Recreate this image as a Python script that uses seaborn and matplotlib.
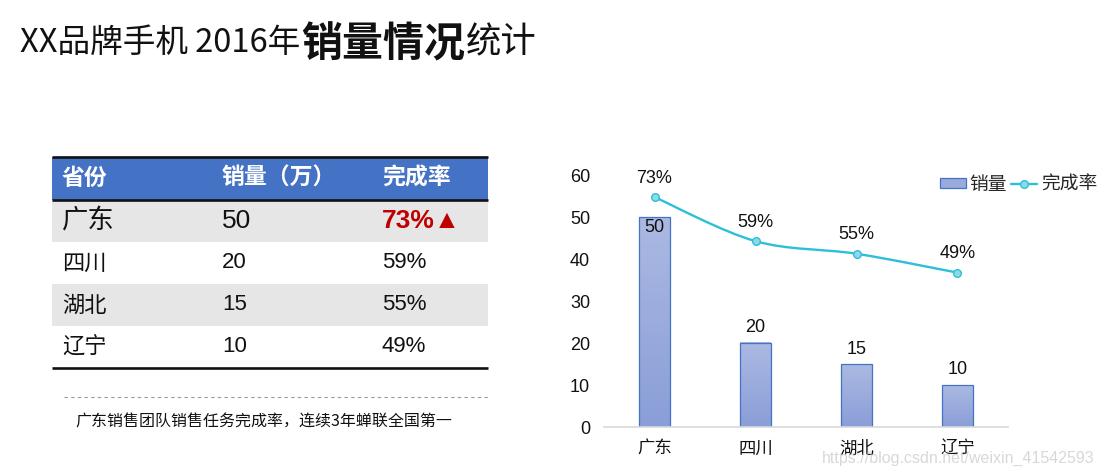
import numpy as np
import pandas as pd
import matplotlib
matplotlib.use('Agg')
import matplotlib.pyplot as plt
import seaborn as sns
from matplotlib.patches import Rectangle, PathPatch
from matplotlib.path import Path
from matplotlib.lines import Line2D
from matplotlib.colors import LinearSegmentedColormap

# ---------------- data ----------------
provinces = ['广东', '四川', '湖北', '辽宁']
sales = [50, 20, 15, 10]
rates = [0.73, 0.59, 0.55, 0.49]
table_headers = ['省份', '销量（万）', '完成率']
legend_labels = ['销量', '完成率']
yticks = [0, 10, 20, 30, 40, 50, 60]
title_parts = ['XX品牌手机 2016年', '销量情况', '统计']
note = '广东销售团队销售任务完成率，连续3年蝉联全国第一'
watermark = 'https://blog.csdn.net/weixin_41542593'

# ---------------- style ----------------
sns.set_theme(style='white')
plt.rcParams['font.family'] = ['Liberation Sans', 'Noto Sans CJK SC', 'DejaVu Sans']
CJK = ['Noto Sans CJK SC', 'DejaVu Sans']
LAT = ['Liberation Sans', 'Noto Sans CJK SC', 'DejaVu Sans']

W, H = 1114, 472
fig = plt.figure(figsize=(W / 100, H / 100), dpi=100)
fig.patch.set_facecolor('white')

bg = fig.add_axes([0, 0, 1, 1])
bg.set_xlim(0, W)
bg.set_ylim(H, 0)
bg.axis('off')

# ---------------- title ----------------
renderer = fig.canvas.get_renderer()
x = 20
specs = [(title_parts[0], 23.5, 'normal', 52),
         (title_parts[1], 29.5, 'bold', 56),
         (title_parts[2], 25.5, 'normal', 52)]
for txt, size, weight, base in specs:
    t = bg.text(x, base, txt, fontsize=size, fontweight=weight, family=CJK,
                va='baseline', ha='left', color='#111111')
    bb = t.get_window_extent(renderer)
    x += bb.width + 1

# ---------------- table ----------------
tx0, tx1 = 52, 488
col_x = [62, 222, 382]
head_top, head_bot = 157, 200
row_h = 42
bg.add_patch(Rectangle((tx0, head_top), tx1 - tx0, head_bot - head_top,
                       facecolor='#4472C4', edgecolor='none'))
for i in range(len(provinces)):
    y0 = head_bot + i * row_h
    if i % 2 == 0:
        bg.add_patch(Rectangle((tx0, y0), tx1 - tx0, row_h,
                               facecolor='#E7E6E6', edgecolor='none'))
bottom = head_bot + row_h * len(provinces)
for yy in (head_top, head_bot, bottom):
    bg.plot([tx0, tx1], [yy, yy], color='#111111', lw=1.9, solid_capstyle='butt')

for cx, h in zip(col_x, table_headers):
    bg.text(cx, (head_top + head_bot) / 2, h, fontsize=16.5, fontweight='bold',
            color='white', family=CJK, va='center', ha='left')

for i, (p, s, r) in enumerate(zip(provinces, sales, rates)):
    yc = head_bot + row_h * i + row_h / 2
    fs = 19 if i == 0 else 16
    bg.text(col_x[0], yc, p, fontsize=fs, family=CJK, va='center', ha='left',
            color='#111111')
    bg.text(col_x[1], yc, str(s), fontsize=fs, family=LAT, va='center', ha='left',
            color='#111111')
    if i == 0:
        bg.text(col_x[2], yc, f'{round(r * 100)}%▲', fontsize=fs, family=LAT,
                fontweight='bold', va='center', ha='left', color='#C00000')
    else:
        bg.text(col_x[2], yc, f'{round(r * 100)}%', fontsize=fs, family=LAT,
                va='center', ha='left', color='#111111')

bg.plot([64, 488], [397, 397], color='#9A9A9A', lw=0.8, dashes=(3, 3))
bg.text(75, 422, note, fontsize=11.5, family=CJK, va='center', ha='left',
        color='#111111')

# ---------------- chart ----------------
df = pd.DataFrame({'province': provinces, 'sales': sales, 'rate': rates})

ax = fig.add_axes([604 / W, 1 - 427 / H, 404 / W, 252 / H])
ax.patch.set_alpha(0)
sns.barplot(data=df, x='province', y='sales', ax=ax, width=0.3,
            color='#9AAADD', edgecolor='#4472C4', linewidth=0.9, saturation=1)
ax.set_xlim(-0.5, len(provinces) - 0.5)
ax.set_ylim(yticks[0], yticks[-1])
ax.set_yticks(yticks)
ax.set_xlabel('')
ax.set_ylabel('')
for sp in ('left', 'top', 'right'):
    ax.spines[sp].set_visible(False)
ax.spines['bottom'].set_color('#D9D9D9')
ax.spines['bottom'].set_linewidth(1.2)
ax.tick_params(axis='y', length=0, labelsize=13, pad=10, labelcolor='#111111')
ax.tick_params(axis='x', length=0, labelsize=12.5, pad=9, labelcolor='#111111')
for lab in ax.get_xticklabels():
    lab.set_family(CJK)

# gradient fill for bars
cmap = LinearSegmentedColormap.from_list('g', ['#8A9ED8', '#ABB9E2'])
grad = np.linspace(0, 1, 64).reshape(-1, 1)
for p in list(ax.patches):
    bb = p.get_bbox()
    ax.imshow(grad, extent=[bb.x0, bb.x1, bb.y0, bb.y1], origin='lower',
              aspect='auto', cmap=cmap, zorder=p.get_zorder() + 0.1)
    p.set_facecolor('none')
    p.set_zorder(p.get_zorder() + 0.2)
ax.set_xlim(-0.5, len(provinces) - 0.5)
ax.set_ylim(yticks[0], yticks[-1])

for i, s in enumerate(sales):
    off = -11 if i == 0 else 15
    ax.annotate(str(s), xy=(i, s), xytext=(0, off), textcoords='offset pixels',
                ha='center', va='center', fontsize=13, color='#111111', zorder=5)

ax2 = ax.twinx()
ax2.set_ylim(0, 0.8)
line_c = '#2DBFD8'
sns.lineplot(data=df, x='province', y='rate', ax=ax2, sort=False, color=line_c,
             lw=1.7, marker='o', markersize=5.5, markerfacecolor='#8FD8E8',
             markeredgecolor=line_c, markeredgewidth=1, zorder=4)
ax2.set_ylim(0, 0.8)
ax2.set_xlim(-0.5, len(provinces) - 0.5)
ax2.axis('off')

# smooth the drawn line (Excel-style smoothed line) using its own vertices
ln = ax2.lines[0]
P = np.asarray(ln.get_xydata(), dtype=float)
ln.set_linestyle('none')
verts = [tuple(P[0])]
codes = [Path.MOVETO]
n = len(P)
for i in range(n - 1):
    p0 = P[i - 1] if i > 0 else P[i]
    p1, p2 = P[i], P[i + 1]
    p3 = P[i + 2] if i + 2 < n else P[i + 1]
    c1 = p1 + (p2 - p0) / 6.0
    c2 = p2 - (p3 - p1) / 6.0
    verts += [tuple(c1), tuple(c2), tuple(p2)]
    codes += [Path.CURVE4] * 3
ax2.add_patch(PathPatch(Path(verts, codes), facecolor='none', edgecolor=line_c,
                        lw=1.7, zorder=3, capstyle='round'))

for i, r in enumerate(rates):
    ax2.annotate(f'{round(r * 100)}%', xy=(i, r), xytext=(0, 19),
                 textcoords='offset pixels', ha='center', va='center',
                 fontsize=13, color='#111111')

handles = [Rectangle((0, 0), 1, 1, facecolor='#9AAADD', edgecolor='#4472C4', lw=0.9),
           Line2D([], [], color=line_c, lw=1.7, marker='o', markersize=5.5,
                  markerfacecolor='#8FD8E8', markeredgecolor=line_c)]
fig.legend(handles, legend_labels, loc='center right',
           bbox_to_anchor=(1097 / W, 1 - 184 / H), ncol=2, frameon=False,
           prop={'family': CJK, 'size': 13.5}, handlelength=1.4, handleheight=0.45,
           handletextpad=0.2, columnspacing=0.2, borderpad=0, borderaxespad=0)

fig.text(822 / W, 1 - 458 / H, watermark, fontsize=11.5, color='#C8C8C8',
         alpha=0.7, va='center', ha='left', family=LAT, zorder=10)

fig.savefig('out.png', dpi=100)
